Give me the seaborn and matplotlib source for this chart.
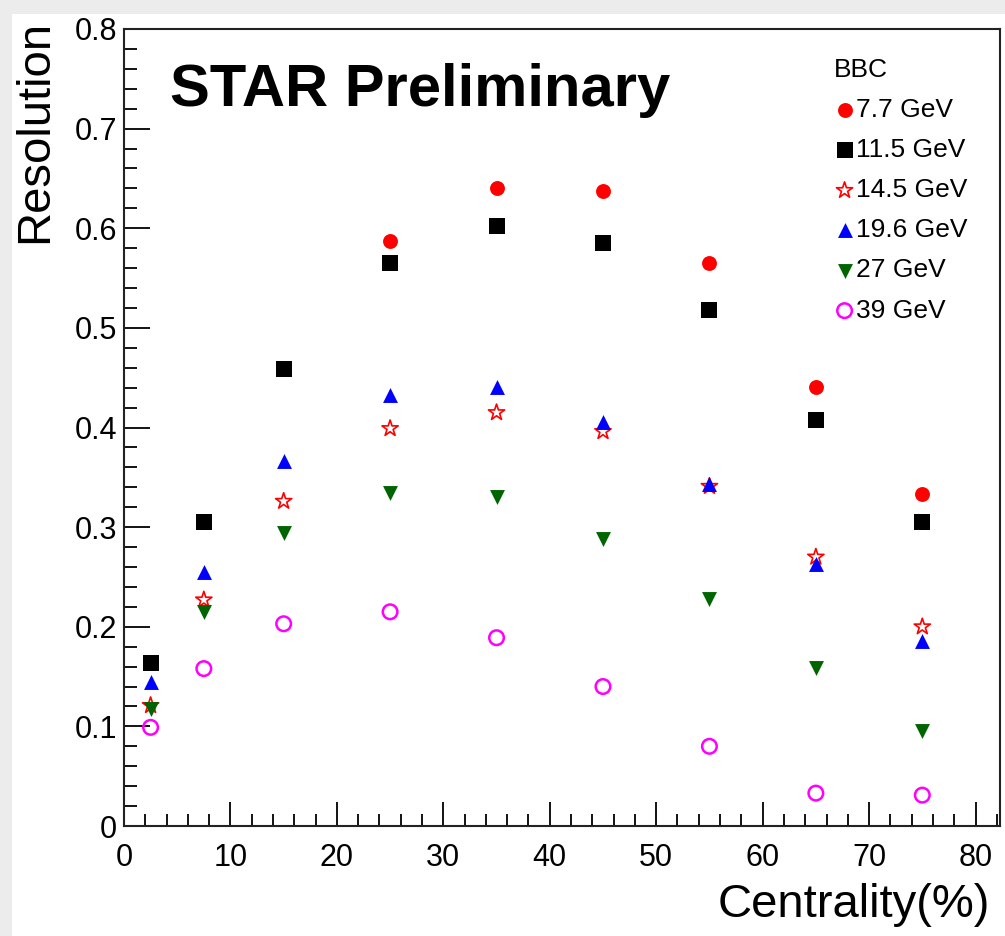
import matplotlib
matplotlib.use('Agg')
import matplotlib.pyplot as plt
import seaborn as sns
from matplotlib.ticker import MultipleLocator
from matplotlib.patches import Rectangle

# centrality bin centres (%)
centrality = [2.5, 7.5, 15, 25, 35, 45, 55, 65, 75]

# BBC event plane resolution per energy
res_7p7 = [0.164, 0.305, 0.460, 0.587, 0.640, 0.637, 0.565, 0.441, 0.333]
res_11p5 = [0.164, 0.305, 0.459, 0.565, 0.602, 0.585, 0.518, 0.408, 0.305]
res_14p5 = [0.121, 0.227, 0.326, 0.399, 0.415, 0.396, 0.341, 0.270, 0.200]
res_19p6 = [0.145, 0.255, 0.366, 0.433, 0.441, 0.406, 0.343, 0.263, 0.186]
res_27 = [0.117, 0.215, 0.294, 0.334, 0.330, 0.288, 0.228, 0.159, 0.095]
res_39 = [0.099, 0.158, 0.203, 0.215, 0.189, 0.140, 0.080, 0.033, 0.031]

labels = ['7.7 GeV', '11.5 GeV', '14.5 GeV', '19.6 GeV', '27 GeV', '39 GeV']

sns.set_theme(style='ticks')
plt.rcParams['font.family'] = ['Liberation Sans', 'DejaVu Sans']
plt.rcParams.update({'text.color': 'black', 'axes.labelcolor': 'black',
                     'xtick.color': 'black', 'ytick.color': 'black'})

fig = plt.figure(figsize=(10.05, 9.36), dpi=100)
fig.patch.set_facecolor('#ececec')
# white page inside the light grey screenshot border
fig.add_artist(Rectangle((12 / 1005, 0), 1, 1 - 14 / 936, transform=fig.transFigure,
                         facecolor='white', edgecolor='none', zorder=-10))
ax = fig.add_axes([124 / 1005, 1 - 826 / 936, (1000 - 124) / 1005, (826 - 29) / 936])
ax.set_facecolor('white')

styles = [
    dict(marker='o', color='red', s=115, linewidth=0),
    dict(marker='s', color='black', s=130, linewidth=0),
    dict(marker='*', color='red', facecolor='none', edgecolor='red', s=150, linewidth=1.2),
    dict(marker='^', color='blue', s=115, linewidth=0),
    dict(marker='v', color='#006400', s=115, linewidth=0),
    dict(marker='o', color='magenta', facecolor='none', edgecolor='magenta', s=110, linewidth=1.8),
]
series = [res_7p7, res_11p5, res_14p5, res_19p6, res_27, res_39]
for vals, lab, st in zip(series, labels, styles):
    sns.scatterplot(x=centrality, y=vals, ax=ax, label=lab, **st)

ax.set_xlim(0, 82.3)
ax.set_ylim(0, 0.8)
ax.xaxis.set_major_locator(MultipleLocator(10))
ax.xaxis.set_minor_locator(MultipleLocator(2))
ax.yaxis.set_major_locator(MultipleLocator(0.1))
ax.yaxis.set_minor_locator(MultipleLocator(0.02))
ax.yaxis.set_major_formatter(plt.FuncFormatter(lambda v, p: '0' if abs(v) < 1e-9 else f'{v:.1f}'))
ax.tick_params(which='both', direction='in', top=False, right=False, width=1.3, color='black')
ax.tick_params(axis='y', which='major', length=19, labelsize=22, pad=5)
ax.tick_params(axis='y', which='minor', length=9)
ax.tick_params(axis='x', which='major', length=17, labelsize=22, pad=12)
ax.tick_params(axis='x', which='minor', length=9)
for sp in ax.spines.values():
    sp.set_linewidth(1.5)
    sp.set_color('#222222')

ax.set_xlabel('Centrality(%)', fontsize=34, ha='right', va='center')
ax.xaxis.set_label_coords((990 - 124) / 876, (826 - 905) / 797)
ax.set_ylabel('Resolution', fontsize=34, ha='right', va='center')
ax.yaxis.set_label_coords((35 - 124) / 876, (826 - 20) / 797)

ax.text(170 / 1005, 1 - 106 / 936, 'STAR Preliminary', transform=fig.transFigure,
        fontsize=43, fontweight='bold', ha='left', va='baseline')

leg = ax.legend(title='BBC', loc='upper left', bbox_to_anchor=(834 / 1005, 1 - 58 / 936),
                bbox_transform=fig.transFigure, frameon=False, fontsize=19,
                title_fontsize=19, alignment='left', handlelength=0.8, handletextpad=0.05,
                labelspacing=0.61, borderaxespad=0, borderpad=0)

fig.savefig('out.png', dpi=100, facecolor=fig.get_facecolor())
